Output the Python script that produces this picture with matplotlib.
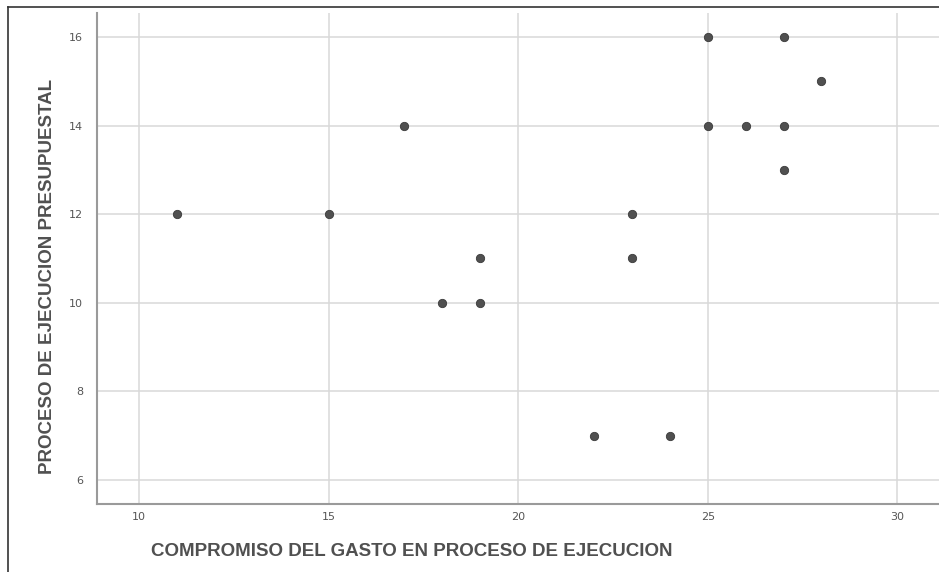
import matplotlib.pyplot as plt
from matplotlib.lines import Line2D

# Data
gasto = [11, 15, 17, 18, 19, 19, 22, 23, 23, 24, 25, 25, 26, 27, 27, 27, 28]
presupuestal = [12, 12, 14, 10, 11, 10, 7, 12, 11, 7, 16, 14, 14, 16, 14, 13, 15]

x_ticks = [10, 15, 20, 25, 30]
y_ticks = [6, 8, 10, 12, 14, 16]

fig = plt.figure(figsize=(9.39, 5.72), dpi=100)
ax = fig.add_axes([97/939, 68/572, 842/939, 491/572])

ax.scatter(gasto, presupuestal, s=36, color='#505050', edgecolors='#3a3a3a',
           linewidths=0.6, zorder=3)

ax.set_xlim(8.89, 31.1)
ax.set_ylim(5.46, 16.54)
ax.set_xticks(x_ticks)
ax.set_yticks(y_ticks)
ax.grid(True, color='#d8d8d8', linewidth=1.1)
ax.set_axisbelow(True)
ax.tick_params(length=0, labelsize=8, colors='#555555')
ax.tick_params(axis='x', pad=6)
ax.tick_params(axis='y', pad=10)

for side in ['top', 'right']:
    ax.spines[side].set_visible(False)
for side in ['left', 'bottom']:
    ax.spines[side].set_color('#9a9a9a')
    ax.spines[side].set_linewidth(1.5)

# axis titles
fig.text(412/939, 1 - 551/572, 'COMPROMISO DEL GASTO EN PROCESO DE EJECUCION',
         ha='center', va='center', fontsize=13.5, fontweight='bold',
         family='Liberation Sans', color='#505050')
fig.text(48/939, 1 - 276/572, 'PROCESO DE EJECUCION PRESUPUESTAL',
         ha='center', va='center', rotation=90, fontsize=13.5, fontweight='bold',
         family='Liberation Sans', color='#505050')

# outer frame (left and top edges)
fig.add_artist(Line2D([8/939, 8/939], [0, 1 - 7/572], transform=fig.transFigure,
                     color='#333333', linewidth=1.2))
fig.add_artist(Line2D([8/939, 1], [1 - 7/572, 1 - 7/572], transform=fig.transFigure,
                     color='#333333', linewidth=1.2))

plt.savefig('out.png', dpi=100)
